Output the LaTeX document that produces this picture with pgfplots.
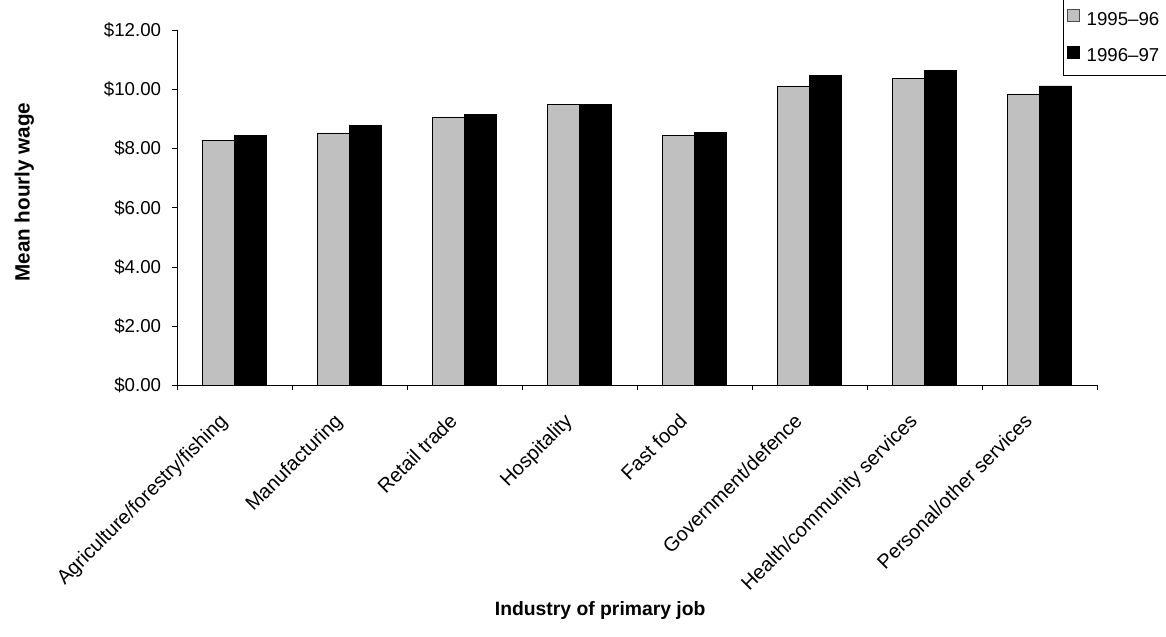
\documentclass[border=0pt]{standalone}
\usepackage{fontspec}
\setmainfont{Liberation Sans}
\usepackage{pgfplots}
\pgfplotsset{compat=1.18}
\definecolor{barGrey}{HTML}{C0C0C0}

\begin{document}
\begin{tikzpicture}
\begin{axis}[
  at={(0pt,0pt)}, anchor=south west,
  scale only axis,
  width=690pt, height=266.6pt,
  ybar=0pt, bar width=24pt,
  xmin=-0.5, xmax=7.5, ymin=0, ymax=12,
  axis lines*=left,
  axis line style={line width=0.6pt},
  tick align=outside,
  major tick length=3.75pt, minor tick length=3.75pt,
  tick style={line width=0.6pt, black},
  major x tick style={draw=none},
  xtick={0,...,7},
  minor xtick={-0.5,0.5,...,7.5},
  xticklabels={Agriculture/forestry/fishing, Manufacturing, Retail trade, Hospitality, Fast food, Government/defence, Health/community services, Personal/other services},
  xticklabel style={rotate=45, anchor=north east, inner sep=1pt, xshift=-19pt, yshift=-1.5pt,
    font=\fontsize{15}{17}\selectfont},
  ytick={0,2,...,12},
  /pgf/number format/assume math mode=true,
  yticklabel={\$\pgfmathprintnumber[fixed,fixed zerofill,precision=2]{\tick}},
  yticklabel style={inner sep=2pt, xshift=-6pt, font=\fontsize{14}{16}\selectfont},
  xlabel={Industry of primary job},
  ylabel={Mean hourly wage},
  xlabel style={at={(axis description cs:0.46,-0.632)}, anchor=center,
    font=\fontsize{14.5}{16}\selectfont\bfseries},
  ylabel style={at={(axis description cs:-0.166,0.544)}, anchor=center,
    font=\fontsize{15.5}{17}\selectfont\bfseries},
  legend style={at={(0.963,0.8706)}, anchor=south west, draw=black, line width=0.6pt,
    font=\fontsize{14}{16}\selectfont, row sep=12pt, inner xsep=3pt, inner ysep=7pt,
    cells={anchor=west},
    /tikz/every odd column/.append style={column sep=3pt}},
]
\addplot[fill=barGrey, draw=black, line width=0.6pt,
  legend image code/.code={\draw[fill=barGrey, draw=black!70, line width=0.5pt] (0pt,-1.5pt) rectangle (9pt,7.5pt);}]
  coordinates {(0,8.26) (1,8.52) (2,9.05) (3,9.48) (4,8.43) (5,10.11) (6,10.37) (7,9.84)};
\addplot[fill=black, draw=black, line width=0.6pt,
  legend image code/.code={\draw[fill=black, draw=black, line width=0.5pt] (0pt,-1.5pt) rectangle (9pt,7.5pt);}]
  coordinates {(0,8.43) (1,8.79) (2,9.16) (3,9.49) (4,8.53) (5,10.47) (6,10.63) (7,10.11)};
\legend{1995--96, 1996--97}
\end{axis}
\pgfresetboundingbox
\path[use as bounding box] (-132.75pt,-188.6pt) rectangle (741.75pt,289.1pt);
\end{tikzpicture}
\end{document}
